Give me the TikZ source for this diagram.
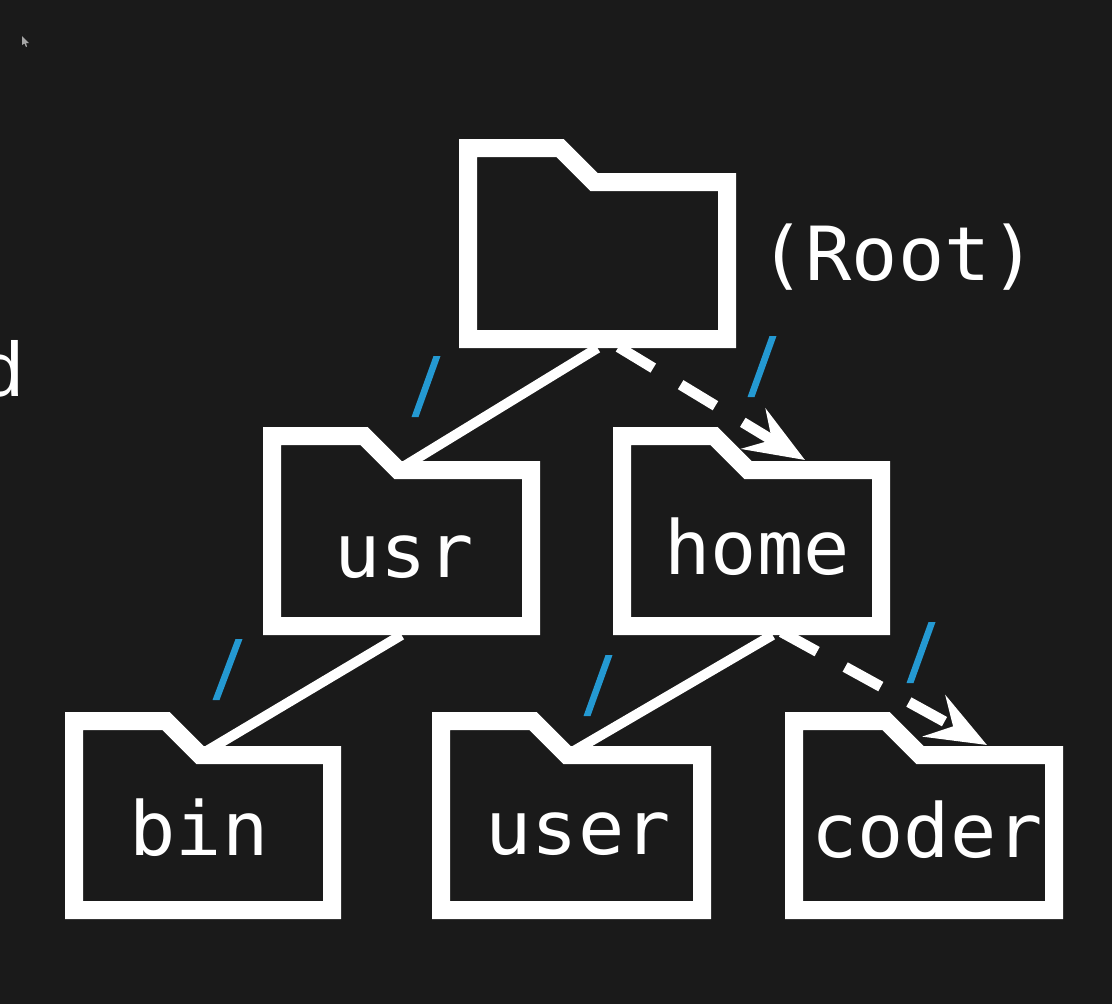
\documentclass[tikz,border=0pt]{standalone}
\usepackage{fontspec}
\setmainfont{Liberation Sans}
\newfontfamily\monof[FakeStretch=1.03]{DejaVu Sans Mono}
\usetikzlibrary{arrows.meta,calc}
\definecolor{bgc}{HTML}{1A1A1A}
\definecolor{tickc}{HTML}{2499D2}
\tikzset{
  folderline/.style={draw=white,line width=13.5pt,miter limit=10,line join=miter},
  folderbox/.style={inner sep=0pt,outer sep=0pt,rectangle},
  ftext/.style={text=white,anchor=base,inner sep=0pt,font=\monof\fontsize{56}{56}\selectfont},
  solidlink/.style={draw=white,line width=7.5pt},
  dashlink/.style={draw=white,line width=8pt,dash pattern=on 30.5pt off 24pt,
    -{Stealth[length=45pt,width=35pt,inset=16pt,fill=white]}},
  tick/.style={fill=tickc},
}
\newcommand{\folderdraw}[5]{%
  \begin{scope}[shift={(#2,#3)}]
    \node[folderbox,minimum width={#4*0.75pt},minimum height={#5*0.75pt}] (#1) at ({#4/2},{#5/2}) {};
    \coordinate (#1-notch) at (135,43);
    \draw[folderline] (9,9) -- (101,9) -- (135,43) -- ({#4-9},43) -- ({#4-9},{#5-9}) -- (9,{#5-9}) -- cycle;
  \end{scope}}
\newcommand{\tickmark}[4]{\fill[tick] ({#1-3.5},#2) -- ({#1+3.5},#2) -- ({#3+3.5},#4) -- ({#3-3.5},#4) -- cycle;}
\begin{document}
\begin{tikzpicture}[x=0.75pt,y=-0.75pt]
  \useasboundingbox (0,0) rectangle (1112,1004);
  \clip (0,0) rectangle (1112,1004);
  \fill[bgc] (0,0) rectangle (1112,1004);

  % mouse pointer
  \fill[gray!70!white] (22,36) -- (22,45) -- (24.5,43.5) -- (26,47) -- (27,46.5) -- (26,43) -- (29,43) -- cycle;
  % clipped word at left edge
  \node[text=white,anchor=base east,inner sep=0pt,font=\fontsize{58}{58}\selectfont] (cutd) at (24,396) {d};

  % folders
  \folderdraw{root}{459}{139}{277}{209}
  \folderdraw{usr}{263}{427}{277}{208}
  \folderdraw{home}{613}{427}{277}{208}
  \folderdraw{bin}{65}{712}{276}{207}
  \folderdraw{user}{432}{712}{279}{207}
  \folderdraw{coder}{785}{712}{278}{207}

  % ports
  \coordinate (rootR) at ($(root.south)+(21,-1)$);
  \coordinate (homeL) at ($(home.south)+(21,0)$);
  \coordinate (homeR) at ($(home.south)+(30,-3)$);
  \coordinate (homeIn) at ($(home-notch)+(57,-10)$);
  \coordinate (coderIn) at ($(coder-notch)+(67,-10)$);

  % solid links
  \draw[solidlink] (root.south) -- (usr-notch);
  \draw[solidlink] (usr.south) -- (bin-notch);
  \draw[solidlink] (homeL) -- (user-notch);

  % dashed links
  \draw[dashlink] (rootR) -- (homeIn);
  \draw[dashlink] (homeR) -- (coderIn);

  % blue ticks
  \tickmark{437}{356}{415}{417}
  \tickmark{773}{336}{751}{397}
  \tickmark{239}{639}{216}{700}
  \tickmark{609}{655}{587}{716}
  \tickmark{932}{622}{910}{683}

  % labels
  \node[ftext] (usrt) at (404,577) {usr};
  \node[ftext] (homet) at (757,574) {home};
  \node[ftext] (bint) at (199,855) {bin};
  \node[ftext] (usert) at (578,854) {user};
  \node[ftext] (codert) at (927,857) {coder};
  \node[ftext] (roott) at (898,280) {(Root)};
\end{tikzpicture}
\end{document}
